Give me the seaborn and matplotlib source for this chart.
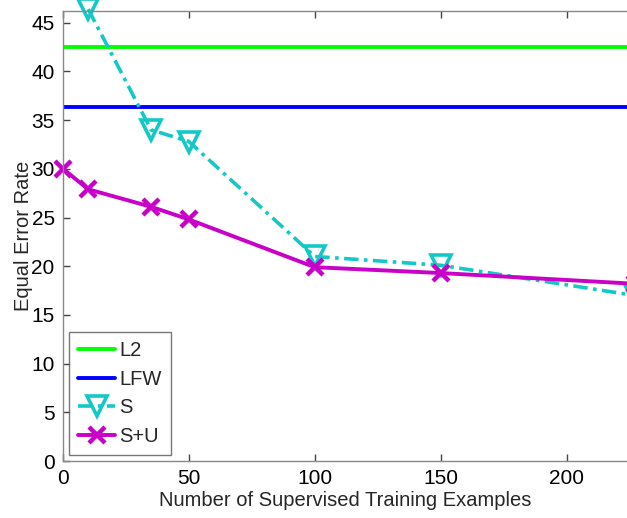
import matplotlib
matplotlib.use("Agg")
import matplotlib.pyplot as plt
import seaborn as sns
import pandas as pd

# Data
l2_value = 42.5
lfw_value = 36.3
s_x = [10, 35, 50, 100, 150, 227]
s_y = [46.4, 34.0, 32.8, 21.0, 20.1, 17.0]
su_x = [0, 10, 35, 50, 100, 150, 227]
su_y = [30.0, 27.9, 26.1, 24.8, 19.9, 19.3, 18.2]
x_ticks = [0, 50, 100, 150, 200]
y_ticks = [0, 5, 10, 15, 20, 25, 30, 35, 40, 45]

sns.set_theme(style="white")
plt.rcParams['font.family'] = ['Liberation Sans', 'DejaVu Sans']

fig = plt.figure(figsize=(6.27, 5.18), dpi=100)
ax = fig.add_axes([0.1005, 0.110, 0.8995, 0.8687])

green = "#00ff00"
blue = "#0000ff"
cyan = "#14c8c8"
magenta = "#c800c8"

ax.axhline(l2_value, color=green, lw=2.8, label="L2")
ax.axhline(lfw_value, color=blue, lw=2.8, label="LFW")

df_s = pd.DataFrame({"x": s_x, "y": s_y})
df_su = pd.DataFrame({"x": su_x, "y": su_y})
sns.lineplot(data=df_s, x="x", y="y", ax=ax, color=cyan, lw=2.6,
             linestyle=(0, (4, 1.5, 1, 1.5)), marker="v", markersize=14,
             markerfacecolor="none", markeredgecolor=cyan, markeredgewidth=2.6,
             label="S", clip_on=False)
sns.lineplot(data=df_su, x="x", y="y", ax=ax, color=magenta, lw=2.8,
             marker="x", markersize=11, markeredgewidth=3.2,
             markeredgecolor=magenta, label="S+U", clip_on=False)

ax.set_xlim(0, 224)
ax.set_ylim(0, 46.2)
ax.set_xticks(x_ticks)
ax.set_yticks(y_ticks)
ax.tick_params(direction="in", length=5, width=1, colors="#444444",
               labelcolor="black", labelsize=15, top=True, right=False,
               bottom=True, left=True, pad=6)
for side in ["left", "bottom", "top"]:
    ax.spines[side].set_color("#888888")
    ax.spines[side].set_linewidth(1)
ax.spines["right"].set_visible(False)

ax.set_xlabel("Number of Supervised Training Examples", fontsize=14.5, labelpad=2)
ax.set_ylabel("Equal Error Rate", fontsize=14.5, labelpad=-1)

leg = ax.legend(loc="lower left", fontsize=14.5, frameon=True, fancybox=False,
                handlelength=1.85, handletextpad=0.2, borderpad=0.45,
                labelspacing=0.48, borderaxespad=0.3)
leg.get_frame().set_edgecolor("#555555")
leg.get_frame().set_linewidth(1)

fig.savefig("out.png", dpi=100)
